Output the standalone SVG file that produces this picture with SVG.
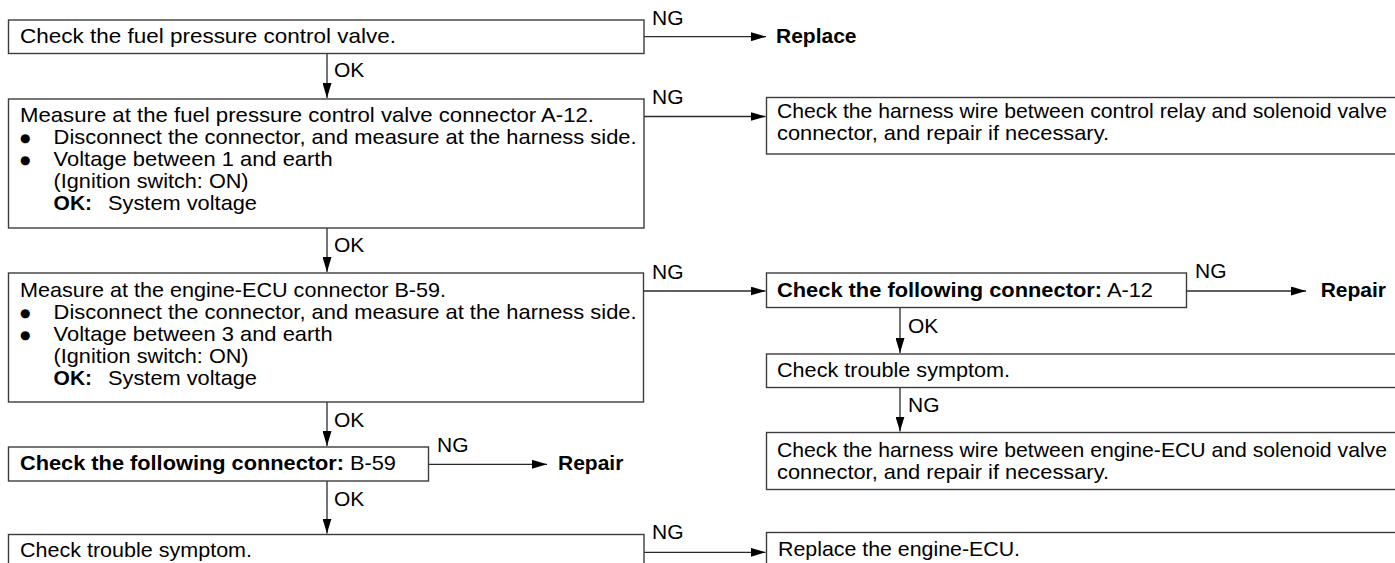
<svg xmlns="http://www.w3.org/2000/svg" width="1395" height="563" viewBox="0 0 1395 563">
<style>
.box{fill:#fff;stroke:#3c3c3c;stroke-width:1.4}
.t{font-family:"Liberation Sans",Arial,sans-serif;font-size:21px;fill:#000}
.b{font-weight:bold}
.bul{font-family:"DejaVu Sans",sans-serif;font-size:12px;fill:#000}
.lab{font-family:"Liberation Sans",Arial,sans-serif;font-size:21px;fill:#000}
.act{font-family:"Liberation Sans",Arial,sans-serif;font-size:21px;font-weight:bold;fill:#000}
.c{fill:none;stroke:#2a2a2a;stroke-width:1.3}
</style>
<defs>
<marker id="ah" markerUnits="userSpaceOnUse" markerWidth="15" markerHeight="9" refX="15" refY="4.5" orient="auto">
<path d="M0,0 L15,4.5 L0,9 z" fill="#000"/>
</marker>
</defs>
<rect width="1395" height="563" fill="#fff"/>

<g id="connectors">
<path class="c" d="M644,36.7 H766" marker-end="url(#ah)"/>
<path class="c" d="M327,53.5 V98" marker-end="url(#ah)"/>
<path class="c" d="M644,116.5 H765.5" marker-end="url(#ah)"/>
<path class="c" d="M327,228 V272" marker-end="url(#ah)"/>
<path class="c" d="M644,291 H765.5" marker-end="url(#ah)"/>
<path class="c" d="M327,402 V446" marker-end="url(#ah)"/>
<path class="c" d="M428.5,464.3 H547" marker-end="url(#ah)"/>
<path class="c" d="M327,481 V533.5" marker-end="url(#ah)"/>
<path class="c" d="M644,552.3 H765.5" marker-end="url(#ah)"/>
<path class="c" d="M1186.5,291 H1306" marker-end="url(#ah)"/>
<path class="c" d="M900,307.5 V353" marker-end="url(#ah)"/>
<path class="c" d="M900,387.5 V431.5" marker-end="url(#ah)"/>
<text class="lab" x="652" y="25">NG</text>
<text class="lab" x="334" y="77">OK</text>
<text class="lab" x="652" y="104">NG</text>
<text class="lab" x="334" y="251.5">OK</text>
<text class="lab" x="652" y="278.5">NG</text>
<text class="lab" x="334" y="426.7">OK</text>
<text class="lab" x="437" y="452">NG</text>
<text class="lab" x="334" y="506">OK</text>
<text class="lab" x="652" y="538.5">NG</text>
<text class="lab" x="1195" y="278.3">NG</text>
<text class="lab" x="908" y="333.3">OK</text>
<text class="lab" x="908" y="411.7">NG</text>
</g>

<g id="n1">
<rect class="box" x="8.5" y="20" width="635.5" height="33.5"/>
<text class="t" x="20" y="42.7" textLength="376" lengthAdjust="spacingAndGlyphs">Check the fuel pressure control valve.</text>
</g>
<g id="n1-replace">
<text class="act" x="776" y="42.7">Replace</text>
</g>

<g id="n2">
<rect class="box" x="8.5" y="99" width="635.5" height="129"/>
<text class="t" x="20" y="122" textLength="574" lengthAdjust="spacingAndGlyphs">Measure at the fuel pressure control valve connector A-12.</text>
<text class="bul" x="20" y="142">●</text>
<text class="t" x="53.6" y="144" textLength="583" lengthAdjust="spacingAndGlyphs">Disconnect the connector, and measure at the harness side.</text>
<text class="bul" x="20" y="164">●</text>
<text class="t" x="53.6" y="166" textLength="279" lengthAdjust="spacingAndGlyphs">Voltage between 1 and earth</text>
<text class="t" x="53.6" y="188" textLength="195" lengthAdjust="spacingAndGlyphs">(Ignition switch: ON)</text>
<text class="t b" x="53.6" y="210">OK:</text>
<text class="t" x="108" y="210" textLength="149" lengthAdjust="spacingAndGlyphs">System voltage</text>
</g>

<g id="r1">
<rect class="box" x="766.5" y="97.5" width="640" height="56.5"/>
<text class="t" x="777" y="118.3" textLength="610" lengthAdjust="spacingAndGlyphs">Check the harness wire between control relay and solenoid valve</text>
<text class="t" x="777" y="140" textLength="332" lengthAdjust="spacingAndGlyphs">connector, and repair if necessary.</text>
</g>

<g id="n3">
<rect class="box" x="8.5" y="273" width="635" height="129"/>
<text class="t" x="20" y="296.7" textLength="426" lengthAdjust="spacingAndGlyphs">Measure at the engine-ECU connector B-59.</text>
<text class="bul" x="20" y="316.5">●</text>
<text class="t" x="53.6" y="318.5" textLength="583" lengthAdjust="spacingAndGlyphs">Disconnect the connector, and measure at the harness side.</text>
<text class="bul" x="20" y="338.5">●</text>
<text class="t" x="53.6" y="340.5" textLength="279" lengthAdjust="spacingAndGlyphs">Voltage between 3 and earth</text>
<text class="t" x="53.6" y="362.5" textLength="195" lengthAdjust="spacingAndGlyphs">(Ignition switch: ON)</text>
<text class="t b" x="53.6" y="384.5">OK:</text>
<text class="t" x="108" y="384.5" textLength="149" lengthAdjust="spacingAndGlyphs">System voltage</text>
</g>

<g id="r2">
<rect class="box" x="766.5" y="273" width="420" height="34.5"/>
<text class="t" x="777" y="296.7" textLength="376" lengthAdjust="spacingAndGlyphs"><tspan class="b">Check the following connector:</tspan> A-12</text>
</g>
<g id="r2-repair">
<text class="act" x="1320.7" y="296.7">Repair</text>
</g>

<g id="r3">
<rect class="box" x="766.5" y="354" width="640" height="33.5"/>
<text class="t" x="777" y="376.7" textLength="233" lengthAdjust="spacingAndGlyphs">Check trouble symptom.</text>
</g>

<g id="r4">
<rect class="box" x="766.5" y="432.5" width="640" height="57"/>
<text class="t" x="777" y="456.7" textLength="610" lengthAdjust="spacingAndGlyphs">Check the harness wire between engine-ECU and solenoid valve</text>
<text class="t" x="777" y="479.3" textLength="332" lengthAdjust="spacingAndGlyphs">connector, and repair if necessary.</text>
</g>

<g id="n4">
<rect class="box" x="8.5" y="447" width="420" height="34"/>
<text class="t" x="20" y="470" textLength="376" lengthAdjust="spacingAndGlyphs"><tspan class="b">Check the following connector:</tspan> B-59</text>
</g>
<g id="n4-repair">
<text class="act" x="558" y="470">Repair</text>
</g>

<g id="n5">
<rect class="box" x="8.5" y="534.5" width="635.5" height="60"/>
<text class="t" x="20" y="556.7" textLength="232" lengthAdjust="spacingAndGlyphs">Check trouble symptom.</text>
</g>

<g id="r5">
<rect class="box" x="766.5" y="532.5" width="640" height="60"/>
<text class="t" x="778" y="556" textLength="242" lengthAdjust="spacingAndGlyphs">Replace the engine-ECU.</text>
</g>
</svg>
